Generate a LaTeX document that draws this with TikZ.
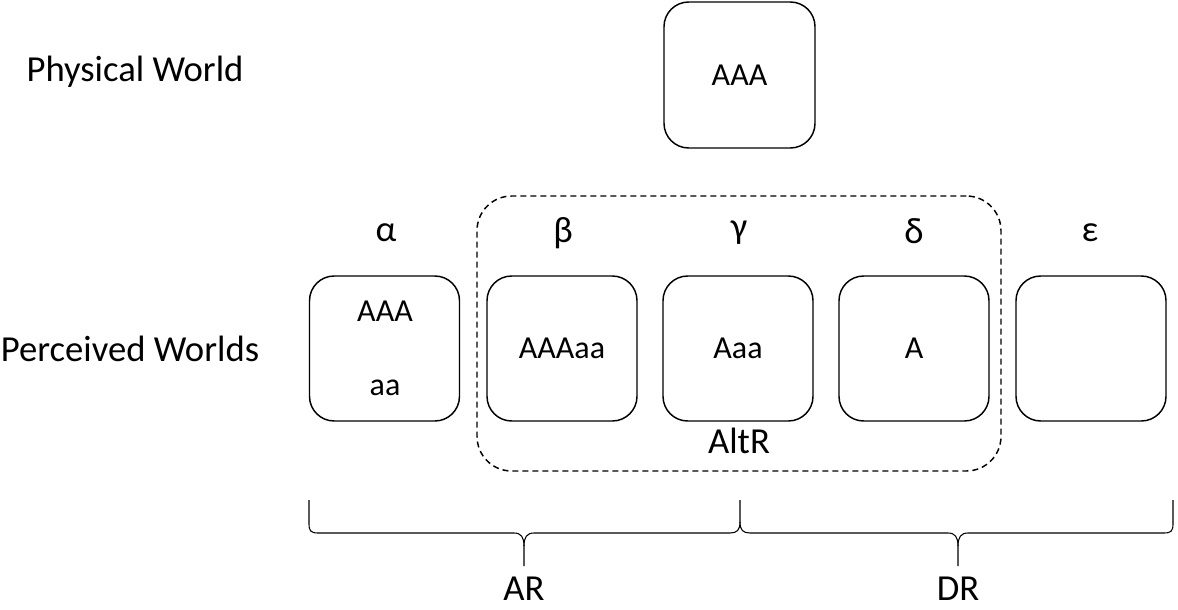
\documentclass[tikz,border=0pt]{standalone}
\usepackage{fontspec}
\setmainfont{Carlito}
\begin{document}
\begin{tikzpicture}[x=0.75pt,y=-0.75pt,
  world/.style={draw,line width=1.1pt,rounded corners=18.5pt,minimum width=112.5pt,minimum height=108.75pt,inner sep=0pt,font=\fontsize{24}{28}\selectfont},
  big/.style={font=\fontsize{27.5}{32}\selectfont,inner sep=0pt},
  brc/.style={line width=0.8pt}]
\useasboundingbox (0,0) rectangle (1178,610);
\node[big] (phys) at (135,72) {Physical World};
\node[big] (perc) at (130,349) {Perceived Worlds};
\node[world,minimum width=113.25pt,minimum height=109.5pt] (top) at (739.5,75) {AAA};
\node[draw,dash pattern=on 4.5pt off 3pt,line width=1.1pt,rounded corners=26pt,minimum width=393pt,minimum height=206.25pt] (alt) at (739,333.5) {};
\node[world] (wa) at (384.5,348.5) {};
\node[font=\fontsize{24}{28}\selectfont,inner sep=0pt] (wa1) at (385,311) {AAA};
\node[font=\fontsize{24}{28}\selectfont,inner sep=0pt] (wa2) at (385,388) {aa};
\node[world] (wb) at (562,348.5) {AAAaa};
\node[world] (wg) at (738,348.5) {Aaa};
\node[world] (wd) at (914,348.5) {A};
\node[world] (we) at (1091,348.5) {};
\node[big] (la) at (386,233) {α};
\node[big] (lb) at (563,233) {β};
\node[big] (lg) at (739,233) {γ};
\node[big] (ld) at (914,231) {δ};
\node[big] (le) at (1090,233) {ε};
\node[big] (altr) at (739,441) {AltR};
\node[big,anchor=base,text depth=0pt] (ar) at (524,600) {AR};
\node[big,anchor=base,text depth=0pt] (dr) at (958,600) {DR};
% braces
\coordinate (b1) at (309,500);
\coordinate (b2) at (740,500);
\coordinate (b3) at (1173,500);
\coordinate (t1) at (524,566);
\coordinate (t2) at (958,566);
\draw[brc] (b1) -- (309,524) .. controls (309,531) and (311,533) .. (318,533) -- (514,533) .. controls (521,533) and (524,537) .. (524,546) -- (t1);
\draw[brc] (524,546) .. controls (524,537) and (527,533) .. (534,533) -- (730,533) .. controls (737,533) and (740,530) .. (740,522) -- (b2);
\draw[brc] (740,522) .. controls (740,530) and (743,533) .. (750,533) -- (948,533) .. controls (955,533) and (958,537) .. (958,546) -- (t2);
\draw[brc] (958,546) .. controls (958,537) and (961,533) .. (968,533) -- (1164,533) .. controls (1171,533) and (1173,531) .. (1173,524) -- (b3);
\end{tikzpicture}
\end{document}
